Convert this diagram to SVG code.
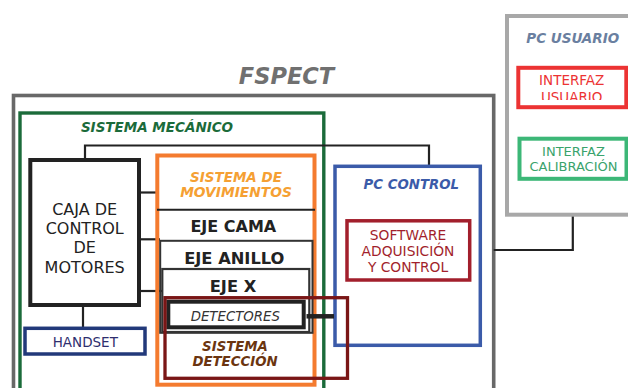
<svg xmlns="http://www.w3.org/2000/svg" width="628" height="388" viewBox="0 0 628 388">
  <defs>
    <style>
      text { font-family: "DejaVu Sans", Verdana, sans-serif; text-anchor: middle; }
      .title { font-weight: bold; font-style: italic; }
      .box { fill: none; }
      .conn { fill: none; stroke: #222; stroke-width: 2.2; }
    </style>
    <clipPath id="clip-usuario">
      <rect x="519" y="69" width="109" height="31"/>
    </clipPath>
  </defs>
  <rect width="628" height="388" fill="#ffffff"/>

  <!-- FSPECT enclosure -->
  <g id="fspect">
    <rect class="box" x="13.5" y="95.5" width="480.2" height="310" stroke="#686868" stroke-width="3.6"/>
    <text class="title" x="286.5" y="84" font-size="22.5" fill="#707070">FSPECT</text>
  </g>

  <!-- mechanical subsystem frame -->
  <g id="sistema-mecanico">
    <rect class="box" x="20" y="113" width="303.8" height="300" stroke="#1b6b3a" stroke-width="3.4"/>
    <text class="title" x="157" y="131.7" font-size="13.5" fill="#1b6b3a">SISTEMA MECÁNICO</text>
  </g>

  <!-- connectors -->
  <g id="connectors">
    <polyline class="conn" points="85,160 85,145.5 429,145.5 429,166"/>
    <line class="conn" x1="139" y1="192.5" x2="157" y2="192.5"/>
    <line class="conn" x1="139" y1="239.3" x2="160" y2="239.3"/>
    <line class="conn" x1="139" y1="291" x2="162" y2="291"/>
    <line class="conn" x1="83" y1="305" x2="83" y2="328"/>
    <polyline class="conn" points="572.8,215 572.8,250 493.7,250"/>
  </g>

  <!-- motor control box -->
  <g id="caja-control">
    <rect class="box" x="30.3" y="160" width="108.7" height="145" stroke="#222" stroke-width="4"/>
    <text x="84.7" y="215" font-size="16" fill="#222">CAJA DE</text>
    <text x="84.7" y="234" font-size="16" fill="#222">CONTROL</text>
    <text x="84.7" y="253" font-size="16" fill="#222">DE</text>
    <text x="84.7" y="272.7" font-size="16" fill="#222">MOTORES</text>
  </g>

  <!-- handset -->
  <g id="handset">
    <rect class="box" x="25" y="328.3" width="120" height="25.7" stroke="#22397a" stroke-width="3.5"/>
    <text x="85.3" y="346.7" font-size="13.5" fill="#2e2e6e">HANDSET</text>
  </g>

  <!-- PC CONTROL -->
  <g id="pc-control">
    <rect class="box" x="335" y="166.3" width="145.3" height="179" stroke="#3b5ba9" stroke-width="3.5"/>
    <text class="title" x="411.3" y="189.3" font-size="13.3" fill="#3b5ba9">PC CONTROL</text>
  </g>

  <g id="software">
    <rect class="box" x="347" y="220.8" width="122.7" height="59.2" stroke="#a21f2c" stroke-width="3.5"/>
    <text x="408" y="240" font-size="13.8" fill="#a21f2c">SOFTWARE</text>
    <text x="408" y="256" font-size="13.8" fill="#a21f2c">ADQUISICIÓN</text>
    <text x="408" y="271.7" font-size="13.8" fill="#a21f2c">Y CONTROL</text>
  </g>

  <!-- movement subsystem -->
  <g id="sistema-movimientos">
    <rect class="box" x="157.3" y="155.5" width="157.2" height="229.2" stroke="#f47b2f" stroke-width="4"/>
    <text class="title" x="236" y="182.3" font-size="13.5" fill="#f5a033">SISTEMA DE</text>
    <text class="title" x="236" y="197.3" font-size="13.8" fill="#f5a033">MOVIMIENTOS</text>
    <line x1="157" y1="209.8" x2="315" y2="209.8" stroke="#222" stroke-width="2"/>
  </g>

  <g id="eje-cama">
    <text x="233.3" y="232.3" font-size="16" font-weight="bold" fill="#222">EJE CAMA</text>
  </g>

  <g id="eje-anillo">
    <rect class="box" x="160.2" y="240.8" width="152.3" height="92" stroke="#333" stroke-width="2"/>
    <text x="234.3" y="264" font-size="16.3" font-weight="bold" fill="#222">EJE ANILLO</text>
  </g>

  <g id="eje-x">
    <rect class="box" x="162.3" y="269" width="147" height="63" stroke="#333" stroke-width="2.2"/>
    <text x="233" y="291.7" font-size="16.3" font-weight="bold" fill="#222">EJE X</text>
  </g>

  <g id="detectores">
    <rect class="box" x="168.3" y="301.7" width="135.4" height="25.6" stroke="#222" stroke-width="4"/>
    <text x="235.3" y="320.7" font-size="13.3" font-style="italic" fill="#333">DETECTORES</text>
  </g>

  <!-- detection subsystem frame -->
  <g id="sistema-deteccion">
    <rect class="box" x="165" y="297.7" width="182.5" height="80.6" stroke="#7a1616" stroke-width="3.3"/>
    <text class="title" x="235" y="351" font-size="13.3" fill="#6b3510">SISTEMA</text>
    <text class="title" x="235" y="366" font-size="13.3" fill="#6b3510">DETECCIÓN</text>
  </g>

  <!-- detector data link -->
  <g id="link-detectores">
    <line x1="306.5" y1="316.3" x2="334" y2="316.3" stroke="#222" stroke-width="4.5"/>
  </g>

  <!-- PC USUARIO -->
  <g id="pc-usuario">
    <rect class="box" x="507" y="16" width="130" height="198.7" stroke="#a8a8a8" stroke-width="4"/>
    <text class="title" x="572.7" y="42.7" font-size="13.5" fill="#6a7fa0">PC USUARIO</text>
  </g>

  <g id="interfaz-usuario">
    <rect class="box" x="518.3" y="67.8" width="108" height="39.4" stroke="#ec3333" stroke-width="4"/>
    <text x="571.7" y="85" font-size="13.5" fill="#ec3333">INTERFAZ</text>
    <text x="571.7" y="102" font-size="13.5" fill="#ec3333" clip-path="url(#clip-usuario)">USUARIO</text>
  </g>

  <g id="interfaz-calibracion">
    <rect class="box" x="519.5" y="138.7" width="107" height="40.1" stroke="#3cb777" stroke-width="4"/>
    <text x="573.5" y="156" font-size="13" fill="#3aa36c">INTERFAZ</text>
    <text x="573.5" y="170.7" font-size="13" fill="#3aa36c">CALIBRACIÓN</text>
  </g>
</svg>
